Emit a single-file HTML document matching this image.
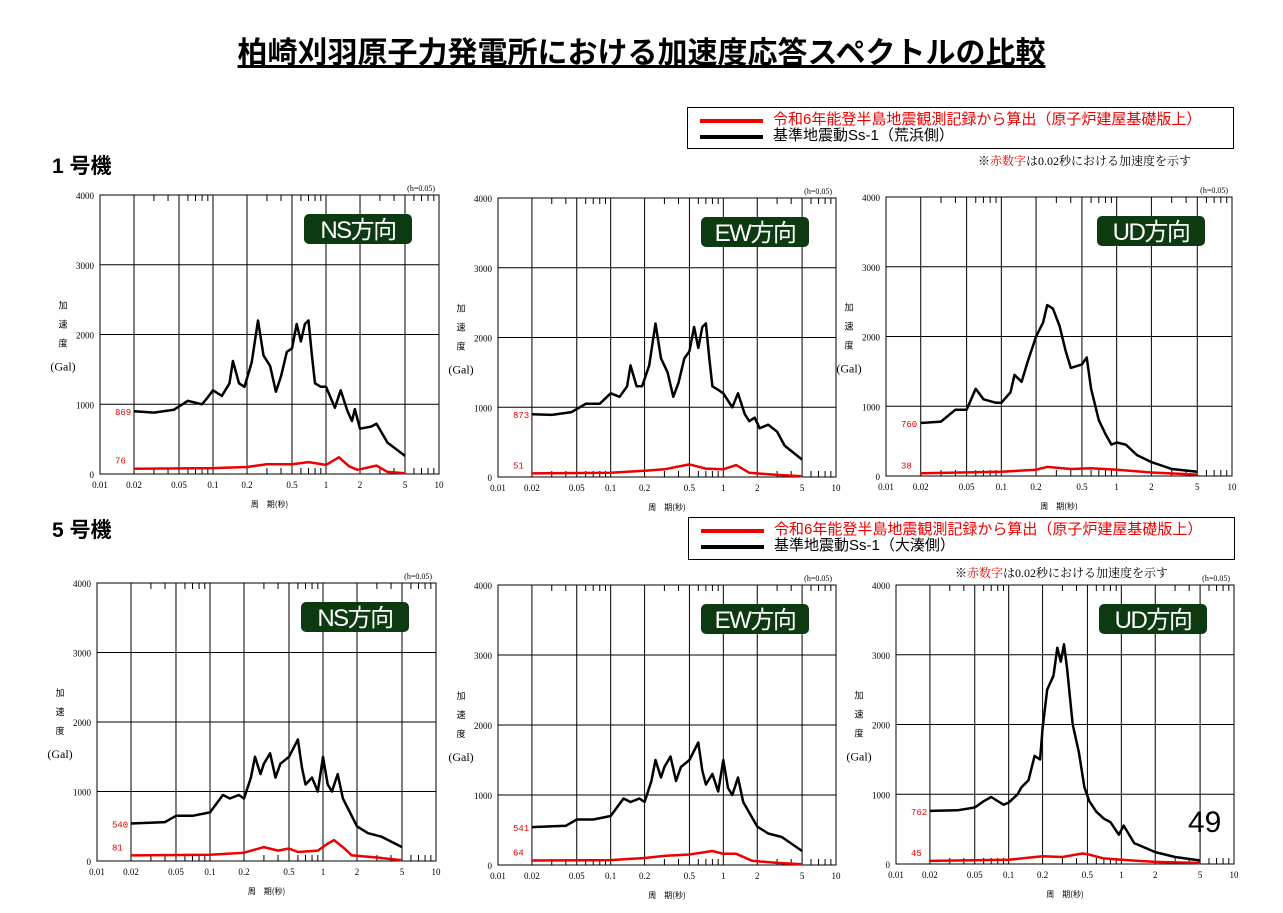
<!DOCTYPE html>
<html><head><meta charset="utf-8"><style>
body{margin:0;background:#fff;width:1283px;height:913px;overflow:hidden;font-family:"Liberation Sans","Noto Sans CJK JP",sans-serif;}
.abs{position:absolute;white-space:nowrap}
</style></head><body>
<div class="abs" style="left:0;width:1283px;top:28px;text-align:center;font-size:30px;font-weight:bold;text-decoration:underline;">柏崎刈羽原子力発電所における加速度応答スペクトルの比較</div>
<div class="abs" style="left:52px;top:150px;font-size:21px;font-weight:bold;">1 号機</div>
<div class="abs" style="left:52px;top:514px;font-size:21px;font-weight:bold;">5 号機</div>
<div class="abs" style="left:687px;top:107px;width:545px;height:40px;border:1px solid #000;font-size:15px;line-height:16px;">
<div class="abs" style="left:12px;top:11px;width:63px;height:4px;background:#e00"></div>
<div class="abs" style="left:12px;top:27px;width:63px;height:4px;background:#000"></div>
<div class="abs" style="left:85px;top:4px;color:#e00">令和6年能登半島地震観測記録から算出（原子炉建屋基礎版上）</div>
<div class="abs" style="left:85px;top:20px;">基準地震動Ss-1（荒浜側）</div></div>
<div class="abs" style="left:978px;top:152px;font-size:12px;font-family:'Liberation Serif','Noto Serif CJK SC',serif">※<span style="color:#e00">赤数字</span>は0.02秒における加速度を示す</div>
<div class="abs" style="left:688px;top:517px;width:545px;height:41px;border:1px solid #000;font-size:15px;line-height:16px;">
<div class="abs" style="left:12px;top:11px;width:63px;height:4px;background:#e00"></div>
<div class="abs" style="left:12px;top:27px;width:63px;height:4px;background:#000"></div>
<div class="abs" style="left:85px;top:4px;color:#e00">令和6年能登半島地震観測記録から算出（原子炉建屋基礎版上）</div>
<div class="abs" style="left:85px;top:20px;">基準地震動Ss-1（大湊側）</div></div>
<div class="abs" style="left:955px;top:564px;font-size:12px;font-family:'Liberation Serif','Noto Serif CJK SC',serif">※<span style="color:#e00">赤数字</span>は0.02秒における加速度を示す</div>
<div class="abs" style="left:1188px;top:806px;font-size:30px;">49</div>
<svg id="s" width="1283" height="913" style="position:absolute;left:0;top:0"></svg>
<script>
const charts=[
{x:100,y:195,w:339,h:279,lab:'NS方向',r0:'869',r1:'76',
b:[[.02,900],[.03,880],[.045,920],[.06,1050],[.08,1000],[.09,1100],[.1,1200],[.12,1120],[.14,1300],[.15,1620],[.17,1300],[.19,1250],[.22,1600],[.25,2200],[.28,1700],[.32,1550],[.36,1180],[.4,1400],[.45,1750],[.5,1800],[.55,2150],[.6,1900],[.65,2150],[.7,2200],[.75,1700],[.8,1300],[.9,1250],[1,1250],[1.2,950],[1.35,1200],[1.55,900],[1.7,760],[1.8,930],[2,650],[2.5,680],[2.8,720],[3.5,450],[5,260]],
r:[[.02,76],[.1,85],[.2,100],[.3,140],[.5,140],[.7,170],[1,130],[1.3,240],[1.6,110],[1.9,60],[2.8,120],[3.5,30],[5,10]]},
{x:498,y:198,w:338,h:279,lab:'EW方向',r0:'873',r1:'51',
b:[[.02,900],[.03,890],[.045,930],[.06,1050],[.08,1050],[.1,1200],[.12,1150],[.14,1300],[.15,1600],[.17,1300],[.19,1300],[.22,1600],[.25,2200],[.28,1700],[.32,1500],[.36,1150],[.4,1350],[.45,1700],[.5,1800],[.55,2150],[.6,1850],[.65,2150],[.7,2200],[.75,1700],[.8,1300],[.9,1250],[1,1200],[1.2,1000],[1.35,1200],[1.55,900],[1.7,800],[1.9,850],[2.1,700],[2.5,750],[3,650],[3.5,450],[5,250]],
r:[[.02,51],[.1,60],[.2,90],[.3,110],[.5,180],[.7,120],[1,110],[1.3,170],[1.7,60],[3,30],[5,10]]},
{x:886,y:197,w:346,h:279,lab:'UD方向',r0:'760',r1:'38',
b:[[.02,760],[.03,780],[.04,950],[.05,950],[.06,1250],[.07,1100],[.09,1050],[.1,1050],[.12,1200],[.13,1450],[.15,1350],[.17,1650],[.2,2000],[.23,2200],[.25,2450],[.28,2400],[.32,2150],[.36,1800],[.4,1550],[.5,1600],[.55,1700],[.6,1250],[.7,800],[.8,600],[.9,450],[1,480],[1.2,450],[1.5,300],[2,200],[3,100],[5,60]],
r:[[.02,38],[.1,60],[.2,90],[.25,130],[.4,100],[.6,110],[1,90],[2,50],[5,20]]},
{x:97,y:583,w:339,h:278,lab:'NS方向',r0:'540',r1:'81',
b:[[.02,540],[.04,560],[.05,650],[.07,650],[.1,700],[.13,950],[.15,900],[.18,950],[.2,900],[.23,1200],[.25,1500],[.28,1250],[.3,1400],[.34,1550],[.38,1200],[.42,1400],[.5,1500],[.6,1750],[.65,1350],[.7,1100],[.8,1200],[.9,1000],[1,1500],[1.1,1100],[1.2,1000],[1.35,1250],[1.5,900],[2,500],[2.5,400],[3.3,350],[5,200]],
r:[[.02,81],[.1,90],[.2,120],[.3,200],[.4,150],[.5,180],[.6,130],[.9,150],[1.1,250],[1.25,300],[1.5,200],[1.8,80],[3,50],[5,10]]},
{x:498,y:585,w:338,h:280,lab:'EW方向',r0:'541',r1:'64',
b:[[.02,541],[.04,560],[.05,650],[.07,650],[.1,700],[.13,950],[.15,900],[.18,950],[.2,900],[.23,1200],[.25,1500],[.28,1250],[.3,1400],[.34,1550],[.38,1200],[.42,1400],[.5,1500],[.6,1750],[.65,1350],[.7,1150],[.8,1300],[.9,1050],[1,1500],[1.1,1100],[1.2,1000],[1.35,1250],[1.5,900],[2,550],[2.5,450],[3.3,400],[5,200]],
r:[[.02,64],[.1,70],[.2,100],[.3,130],[.5,150],[.8,200],[1,160],[1.3,160],[1.8,60],[3,30],[5,10]]},
{x:896,y:585,w:338,h:279,lab:'UD方向',r0:'762',r1:'45',
b:[[.02,762],[.035,770],[.05,810],[.06,900],[.07,960],[.09,850],[.1,880],[.12,1000],[.13,1100],[.15,1200],[.17,1550],[.19,1500],[.2,1950],[.22,2500],[.25,2700],[.27,3100],[.29,2900],[.31,3150],[.33,2800],[.37,2000],[.42,1600],[.47,1100],[.52,900],[.6,750],[.7,650],[.8,600],[.95,420],[1.05,550],[1.3,300],[2,170],[3,100],[5,50]],
r:[[.02,45],[.1,60],[.2,110],[.3,100],[.45,150],[.5,140],[.7,80],[1,60],[2,30],[5,15]]}
];
let s='';
const L=Math.log10;
charts.forEach(c=>{
 const X=p=>c.x+(L(p)+2)/3*c.w, Y=v=>c.y+c.h-v/4000*c.h;
 s+=`<rect x="${c.x}" y="${c.y}" width="${c.w}" height="${c.h}" fill="none" stroke="#000" stroke-width="1"/>`;
 [.02,.05,.1,.2,.5,1,2,5].forEach(p=>s+=`<line x1="${X(p)}" x2="${X(p)}" y1="${c.y}" y2="${c.y+c.h}" stroke="#000"/>`);
 [.03,.04,.06,.07,.08,.09,.3,.4,.6,.7,.8,.9,3,4,6,7,8,9].forEach(p=>{s+=`<line x1="${X(p)}" x2="${X(p)}" y1="${c.y}" y2="${c.y+6}" stroke="#000"/><line x1="${X(p)}" x2="${X(p)}" y1="${c.y+c.h-6}" y2="${c.y+c.h}" stroke="#000"/>`;});
 [1000,2000,3000].forEach(v=>s+=`<line x1="${c.x}" x2="${c.x+c.w}" y1="${Y(v)}" y2="${Y(v)}" stroke="#000"/>`);
 [0,1000,2000,3000,4000].forEach(v=>s+=`<text x="${c.x-6}" y="${Y(v)+4}" font-size="9" text-anchor="end" font-family="Liberation Serif">${v}</text>`);
 [[.01,'0.01'],[.02,'0.02'],[.05,'0.05'],[.1,'0.1'],[.2,'0.2'],[.5,'0.5'],[1,'1'],[2,'2'],[5,'5'],[10,'10']].forEach(([p,t])=>s+=`<text x="${X(p)}" y="${c.y+c.h+14}" font-size="9" text-anchor="middle" font-family="Liberation Serif">${t}</text>`);
 s+=`<text x="${c.x+c.w-4}" y="${c.y-4}" font-size="8" text-anchor="end" font-family="Liberation Serif">(h=0.05)</text>`;
 s+=`<text x="${c.x+c.w/2}" y="${c.y+c.h+33}" font-size="8" text-anchor="middle" font-family="Noto Sans CJK JP">周　期(秒)</text>`;
 const ym=c.y+c.h*0.45;
 ['加','速','度'].forEach((t,i)=>s+=`<text x="${c.x-37}" y="${ym-12+i*19}" font-size="9" text-anchor="middle" font-family="Noto Sans CJK JP">${t}</text>`);
 s+=`<text x="${c.x-37}" y="${ym+50}" font-size="12" text-anchor="middle" font-family="Liberation Serif">(Gal)</text>`;
 s+=`<rect x="${c.x+c.w-135}" y="${c.y+19}" width="108" height="30" rx="5" fill="#0d3a10"/>`;
 s+=`<text x="${c.x+c.w-81}" y="${c.y+43}" font-size="24" fill="#fff" text-anchor="middle" font-family="Liberation Sans,Noto Sans CJK JP" letter-spacing="-1.5">${c.lab}</text>`;
 const pl=(d,col)=>`<polyline fill="none" stroke="${col}" stroke-width="2.5" stroke-linejoin="round" points="${d.map(q=>X(q[0]).toFixed(1)+','+Y(q[1]).toFixed(1)).join(' ')}"/>`;
 s+=pl(c.r,'#e00')+pl(c.b,'#000');
 s+=`<text x="${c.x+15}" y="${Y(c.b[0][1])+4}" font-size="9" fill="#e00" font-family="Liberation Mono">${c.r0}</text>`;
 s+=`<text x="${c.x+15}" y="${Y(c.r[0][1])-5}" font-size="9" fill="#e00" font-family="Liberation Mono">${c.r1}</text>`;
});
document.getElementById('s').innerHTML=s;
</script>
</body></html>
